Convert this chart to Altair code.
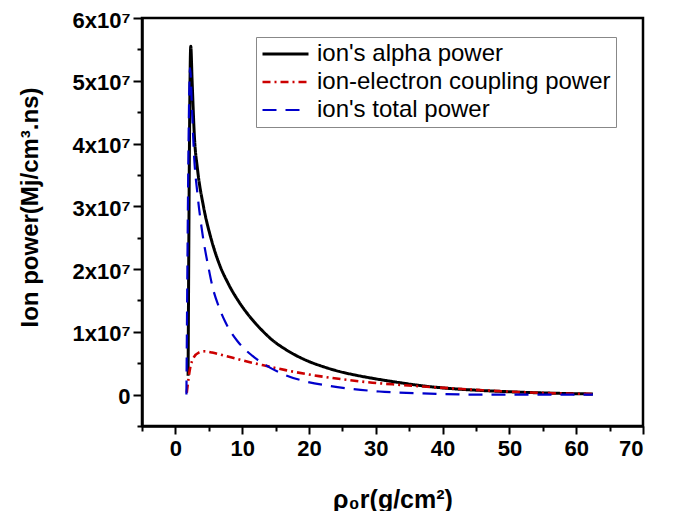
import altair as alt
import pandas as pd

# Series names
series_names = ["ion's alpha power", "ion-electron coupling power", "ion's total power"]

# ion's alpha power (black, solid)
alpha_x = [1.9, 2.3, 2.5, 2.85, 3.3, 4.2, 5.3, 6.5, 8.0, 9.5, 11.0, 13.0, 14.5, 16.5, 19.5, 22.0, 24.5, 27.0, 29.5, 33.0, 37.0, 42.0, 46.0, 54.0, 62.5]
alpha_y = [0.30e7, 5.55e7, 5.0e7, 4.1e7, 3.6e7, 3.0e7, 2.5e7, 2.1e7, 1.75e7, 1.48e7, 1.26e7, 1.02e7, 0.87e7, 0.72e7, 0.55e7, 0.45e7, 0.37e7, 0.31e7, 0.26e7, 0.20e7, 0.14e7, 0.09e7, 0.065e7, 0.03e7, 0.01e7]

# ion-electron coupling power (red, dash-dot)
coup_x = [1.7, 2.2, 2.8, 3.5, 4.3, 5.5, 7.0, 9.0, 11.0, 12.0, 13.5, 16.5, 21.5, 26.5, 29.5, 33.0, 37.0, 42.0, 46.0, 54.0, 62.5]
coup_y = [0.03e7, 0.42e7, 0.60e7, 0.67e7, 0.69e7, 0.67e7, 0.63e7, 0.575e7, 0.52e7, 0.495e7, 0.46e7, 0.39e7, 0.295e7, 0.225e7, 0.19e7, 0.16e7, 0.13e7, 0.095e7, 0.07e7, 0.03e7, 0.01e7]

# ion's total power (blue, dashed)
total_x = [1.65, 2.2, 2.5, 2.8, 3.3, 4.0, 5.0, 5.55, 6.5, 7.55, 9.3, 11.5, 13.5, 16.5, 19.5, 23.0, 26.5, 30.5, 37.0, 46.0, 62.5]
total_y = [0.0, 5.2e7, 4.5e7, 3.8e7, 3.2e7, 2.6e7, 2.0e7, 1.72e7, 1.4e7, 1.14e7, 0.85e7, 0.62e7, 0.47e7, 0.31e7, 0.21e7, 0.14e7, 0.09e7, 0.05e7, 0.02e7, 0.0, 0.0]

x_major = [0, 10, 20, 30, 40, 50, 60, 70]
x_minor = [-5, 5, 15, 25, 35, 45, 55, 65]
y_major = [0, 1e7, 2e7, 3e7, 4e7, 5e7, 6e7]
y_minor = [-0.5e7, 0.5e7, 1.5e7, 2.5e7, 3.5e7, 4.5e7, 5.5e7]

colors = ["#000000", "#cc0000", "#0000cc"]
dashes = [[1, 0], [8, 4, 2, 4], [14, 9]]
widths = [3, 2.2, 3.6]

rows = []
for name, xs, ys in [(series_names[0], alpha_x, alpha_y),
                     (series_names[1], coup_x, coup_y),
                     (series_names[2], total_x, total_y)]:
    for xv, yv in zip(xs, ys):
        rows.append({"x": xv, "y": yv, "series": name})
df = pd.DataFrame(rows)

FONT = "Liberation Sans"
xscale = alt.Scale(domain=[-5, 70], nice=False, zero=False)
yscale = alt.Scale(domain=[-0.5e7, 6e7], nice=False, zero=False)

legend = alt.Legend(
    title=None, orient="none", legendX=114, legendY=19,
    symbolType="stroke", symbolSize=2116, symbolStrokeWidth=3.2,
    labelFont=FONT, labelFontSize=24, labelColor="black", labelOffset=7,
    strokeColor="#888888", fillColor="white", padding=5,
    clipHeight=24, rowPadding=4, labelLimit=400,
)

lines = alt.Chart(df).mark_line(interpolate="monotone", clip=True).encode(
    x=alt.X("x:Q", scale=xscale, axis=alt.Axis(
        values=x_major, title="ρ₀r(g/cm²)", orient="bottom",
        tickSize=8, labelPadding=4, titleY=61, titleFontSize=25, format="d")),
    y=alt.Y("y:Q", scale=yscale, axis=alt.Axis(
        values=y_major, title="Ion power(Mj/cm³.ns)", orient="left",
        tickSize=9, labelPadding=3, labelOffset=2, titleX=-100, titleY=189,
        labelExpr="datum.value == 0 ? '0' : format(datum.value / 1e7, 'd') + 'x10⁷'")),
    color=alt.Color("series:N", scale=alt.Scale(domain=series_names, range=colors), legend=legend),
    strokeDash=alt.StrokeDash("series:N", scale=alt.Scale(domain=series_names, range=dashes), legend=legend),
    strokeWidth=alt.StrokeWidth("series:N", scale=alt.Scale(domain=series_names, range=widths), legend=None),
)

minor = alt.Chart(df).mark_point(opacity=0).encode(
    x=alt.X("x:Q", scale=xscale, axis=alt.Axis(
        values=x_minor, labels=False, title=None, domain=False, orient="bottom", tickSize=5)),
    y=alt.Y("y:Q", scale=yscale, axis=alt.Axis(
        values=y_minor, labels=False, title=None, domain=False, orient="left", tickSize=5)),
)

chart = alt.layer(lines, minor).resolve_axis(x="independent", y="independent").properties(
    width=501, height=408,
    autosize=alt.AutoSizeParams(type="none"),
    padding={"left": 134, "top": 10, "right": 27, "bottom": 85},
    background="white",
).configure_view(
    stroke="black", strokeWidth=2.5
).configure_axis(
    grid=False, domainColor="black", domainWidth=2.5, tickColor="black", tickWidth=2,
    labelFont=FONT, labelFontSize=22, labelFontWeight="bold", labelColor="black",
    titleFont=FONT, titleFontSize=24, titleFontWeight="bold", titleColor="black",
)

chart.save("out.html", embed_options={"renderer": "svg", "actions": False})
